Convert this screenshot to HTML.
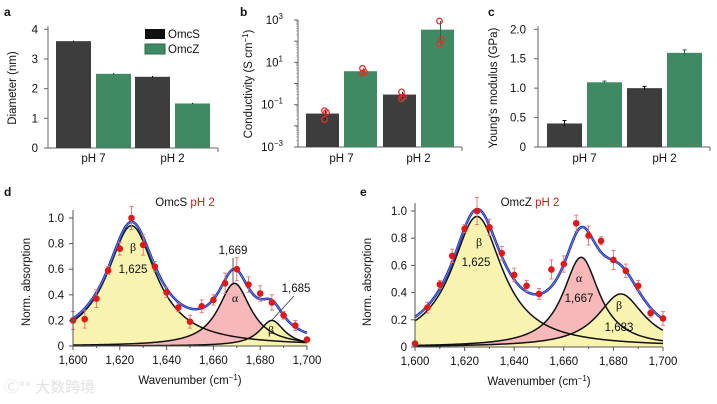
<!DOCTYPE html>
<html><head><meta charset="utf-8"><style>
body{margin:0;background:#fff}
svg{display:block;font-family:"Liberation Sans",Arial,sans-serif}
</style></head><body>
<svg id="fig" width="717" height="404" viewBox="0 0 717 404"></svg>
<script>
// ---------- data ----------
const barGroups = ["pH 7","pH 2"];
const diamOmcS = [3.6, 2.4];
const diamOmcZ = [2.5, 1.5];
const diamErrS = [0.02, 0.03];
const diamErrZ = [0.02, 0.02];
const condOmcS = [0.038, 0.3];
const condOmcZ = [3.8, 350];
const condPtsS = [[0.052,0.043,0.02],[0.4,0.23,0.19]];
const condPtsZ = [[5.2,3.4,3.1],[890,118,76]];
const ymOmcS = [0.4, 1.0];
const ymOmcZ = [1.1, 1.6];
const ymErrS = [0.05, 0.03];
const ymErrZ = [0.02, 0.05];
const waveX = [1600,1605,1610,1615,1620,1625,1630,1635,1640,1645,1650,1655,1660,1665,1670,1675,1680,1685,1690,1695,1700];
const absS = [0.20,0.21,0.37,0.59,0.76,1.00,0.79,0.62,0.42,0.30,0.19,0.31,0.36,0.49,0.60,0.48,0.41,0.34,0.24,0.16,0.05];
const errS = [0.07,0.07,0.07,0.03,0.05,0.09,0.08,0.04,0.04,0.03,0.05,0.05,0.04,0.08,0.09,0.06,0.06,0.06,0.03,0.04,0.01];
const absZ = [0.025,0.29,0.46,0.67,0.87,1.00,0.88,0.69,0.53,0.45,0.39,0.57,0.61,0.91,0.82,0.78,0.64,0.56,0.45,0.25,0.21];
const errZ = [0.01,0.04,0.03,0.05,0.03,0.10,0.06,0.05,0.05,0.04,0.04,0.07,0.06,0.06,0.07,0.03,0.07,0.05,0.04,0.03,0.05];
const peakCenS = [1625,1669,1685], peakAmpS = [0.94,0.49,0.20], peakWidS = [12.8,8.5,6.5];
const peakCenZ = [1625,1667,1683], peakAmpZ = [0.96,0.66,0.39], peakWidZ = [12.5,9,11.5];
const yTicksA=[0,1,2,3,4], yTicksB=[-3,-1,1,3], yTicksC=[0,0.5,1.0,1.5,2.0], yTicksD=[0,0.2,0.4,0.6,0.8,1.0], xTicksD=[1600,1620,1640,1660,1680,1700];

const NS="http://www.w3.org/2000/svg", svg=document.getElementById('fig');
function el(tag,attrs,parent){const e=document.createElementNS(NS,tag);for(const k in attrs)e.setAttribute(k,attrs[k]);(parent||svg).appendChild(e);return e;}
function txt(s,x,y,attrs,parent){const t=el('text',Object.assign({x:x,y:y,'font-size':11,fill:'#111'},attrs||{}),parent);t.textContent=s;return t;}
const DARK="#3d3d3d", GREEN="#3f8a62";

// ---------- panel a ----------
{
const g=el('g',{});
const X0=48,X1=218,Y0=148,Y1=29.3;const y=v=>Y0-(Y0-Y1)*v/4;
txt('a',4,16,{'font-weight':'bold','font-size':12},g);
el('line',{x1:X0,y1:Y1-3,x2:X0,y2:Y0,stroke:'#666'},g);el('line',{x1:X0,y1:Y0,x2:X1,y2:Y0,stroke:'#666'},g);el('line',{x1:X1,y1:Y0,x2:X1,y2:Y0+4,stroke:'#666'},g);
yTicksA.forEach(v=>{el('line',{x1:X0-4,y1:y(v),x2:X0,y2:y(v),stroke:'#666'},g);txt(String(v),38,y(v)+4,{'text-anchor':'end','font-size':11.5},g);});
const starts=[[56,96],[135,175]];
barGroups.forEach((lab,i)=>{
 [[diamOmcS,diamErrS,DARK],[diamOmcZ,diamErrZ,GREEN]].forEach((s,j)=>{
  const bx=starts[i][j],w=35;
  const r=el('rect',{x:bx,y:y(s[0][i]),width:w,height:Y0-y(s[0][i]),fill:s[2]},g);
  
  el('line',{x1:bx+w/2,y1:y(s[0][i]+s[1][i]),x2:bx+w/2,y2:y(s[0][i]-s[1][i]),stroke:'#111'},g);
 });
 txt(lab,(starts[i][0]+starts[i][1]+35)/2,162,{'text-anchor':'middle','font-size':11.5},g);
});
const t=txt('Diameter (nm)',16,88,{'text-anchor':'middle','font-size':11.5,transform:'rotate(-90 16 88)'},g);
const lg=el('g',{},g);
el('rect',{x:145,y:29,width:20,height:10,fill:'#111'},lg);txt('OmcS',168,38,{'font-size':11.5},lg);
el('rect',{x:145,y:44,width:20,height:10,fill:GREEN,stroke:'#2b6b48'},lg);txt('OmcZ',168,53,{'font-size':11.5},lg);
}
// ---------- panel b ----------
{
const g=el('g',{});
const X0=298,X1=462,Y0=147,Y1=20;const y=v=>Y0-(Y0-Y1)*(Math.log10(v)+3)/6;
txt('b',240,16,{'font-weight':'bold','font-size':12},g);
el('line',{x1:X0,y1:Y1,x2:X0,y2:Y0,stroke:'#666'},g);el('line',{x1:X0,y1:Y0,x2:X1,y2:Y0,stroke:'#666'},g);el('line',{x1:X1,y1:Y0,x2:X1,y2:Y0+4,stroke:'#666'},g);
for(let d=-3;d<3;d++){for(let m=2;m<10;m++){const yy=y(m*Math.pow(10,d));el('line',{x1:X0-2,y1:yy,x2:X0,y2:yy,stroke:'#999','stroke-width':0.6},g);}}
for(let d=-3;d<=3;d++){el('line',{x1:X0-4,y1:y(Math.pow(10,d)),x2:X0,y2:y(Math.pow(10,d)),stroke:'#666'},g);}
yTicksB.forEach(p=>{const t=txt('10',283,y(Math.pow(10,p))+4,{'text-anchor':'end','font-size':11.5},g);const s=el('tspan',{dy:-5,'font-size':8},t);s.textContent=p<0?'\u2212'+(-p):String(p);});
const starts=[[306,344],[383,421]];
barGroups.forEach((lab,i)=>{
 [[condOmcS,condPtsS,DARK],[condOmcZ,condPtsZ,GREEN]].forEach((s,j)=>{
  const bx=starts[i][j],w=33;
  const r=el('rect',{x:bx,y:y(s[0][i]),width:w,height:Y0-y(s[0][i]),fill:s[2]},g);
  
  const pts=s[1][i];el('line',{x1:bx+w/2+3,y1:y(Math.max(...pts)),x2:bx+w/2+3,y2:y(Math.min(...pts)),stroke:j?'#1f6b45':'#111'},g);
  pts.forEach((p,k)=>{const c=el('circle',{cx:bx+w/2+(k==1?4:2),cy:y(p),r:2.8,fill:'none',stroke:'#e03030','stroke-width':1.3},g);});
 });
 txt(lab,(starts[i][0]+starts[i][1]+33)/2,162,{'text-anchor':'middle','font-size':11.5},g);
});
const t=txt('Conductivity (S cm',252,84,{'text-anchor':'middle','font-size':11.5,transform:'rotate(-90 252 84)'},g);
const s1=el('tspan',{dy:-4,'font-size':8},t);s1.textContent='\u22121';const s2=el('tspan',{dy:4},t);s2.textContent=')';
}
// ---------- panel c ----------
{
const g=el('g',{});
const X0=538,X1=710,Y0=147,Y1=29.3;const y=v=>Y0-(Y0-Y1)*v/2;
txt('c',488,16,{'font-weight':'bold','font-size':12},g);
el('line',{x1:X0,y1:Y1-3,x2:X0,y2:Y0,stroke:'#666'},g);el('line',{x1:X0,y1:Y0,x2:X1,y2:Y0,stroke:'#666'},g);el('line',{x1:X1,y1:Y0,x2:X1,y2:Y0+4,stroke:'#666'},g);
yTicksC.forEach(v=>{el('line',{x1:X0-4,y1:y(v),x2:X0,y2:y(v),stroke:'#666'},g);txt(v===0?'0':v.toFixed(1),526,y(v)+4,{'text-anchor':'end','font-size':11.5},g);});
const starts=[[547,587],[627,667]];
barGroups.forEach((lab,i)=>{
 [[ymOmcS,ymErrS,DARK],[ymOmcZ,ymErrZ,GREEN]].forEach((s,j)=>{
  const bx=starts[i][j],w=35;
  const r=el('rect',{x:bx,y:y(s[0][i]),width:w,height:Y0-y(s[0][i]),fill:s[2]},g);
  
  const cx=bx+w/2,c=j?'#1f6b45':'#111';
  el('line',{x1:cx,y1:y(s[0][i]+s[1][i]),x2:cx,y2:y(s[0][i]-s[1][i]),stroke:c},g);
  el('line',{x1:cx-2,y1:y(s[0][i]+s[1][i]),x2:cx+2,y2:y(s[0][i]+s[1][i]),stroke:c},g);
 });
 txt(lab,(starts[i][0]+starts[i][1]+35)/2,162,{'text-anchor':'middle','font-size':11.5},g);
});
txt("Young's modulus (GPa)",497,88,{'text-anchor':'middle','font-size':11.5,transform:'rotate(-90 497 88)'},g);
}
// ---------- spectra ----------
function spectrum(name,letter,lx,X0,X1,Y0,Y1,absV,errV,cen,amp,wid,title,labels,yLabX,ticksLabX){
 const g=el('g',{});
 const x=v=>X0+(X1-X0)*(v-1600)/100, y=v=>Y0-(Y0-Y1)*v;
 txt(letter,lx,196,{'font-weight':'bold','font-size':12},g);
 const comp=(k,w)=>amp[k]/(1+Math.pow((w-cen[k])/wid[k],2));
 const fills=['#f8f4b0','#f6b8b8','#f8f4b0'];
 const order=[0,1,2];
 order.forEach(k=>{
  let d='M'+x(1600)+','+y(0);for(let w=1600;w<=1700;w+=0.5)d+=' L'+x(w).toFixed(2)+','+y(comp(k,w)).toFixed(2);d+=' L'+x(1700)+','+y(0)+'Z';
  const p=el('path',{d:d,fill:fills[k],stroke:'none'},g);
 });
 [0,1,2].forEach(k=>{let d='';for(let w=1600;w<=1700;w+=0.5)d+=(d?' L':'M')+x(w).toFixed(2)+','+y(comp(k,w)).toFixed(2);
  const p=el('path',{d:d,fill:'none',stroke:'#111','stroke-width':1.5},g);});
 let d='';for(let w=1600;w<=1700;w+=0.5){let s=0;for(let k=0;k<3;k++)s+=comp(k,w);d+=(d?' L':'M')+x(w).toFixed(2)+','+y(s+0.01).toFixed(2);}
 el('path',{d:d,fill:'none',stroke:'#2233aa','stroke-width':2.6},g);
 const fl=el('path',{d:d,fill:'none',stroke:'#6f86e8','stroke-width':0.8},g);
 waveX.forEach((w,i)=>{
  const cx=x(w),lo=y(absV[i]-errV[i]),hi=y(absV[i]+errV[i]);
  el('line',{x1:cx,y1:hi,x2:cx,y2:lo,stroke:'#e07070','stroke-width':0.9},g);
  el('line',{x1:cx-2,y1:hi,x2:cx+2,y2:hi,stroke:'#e07070','stroke-width':0.9},g);
  el('line',{x1:cx-2,y1:lo,x2:cx+2,y2:lo,stroke:'#e07070','stroke-width':0.9},g);
  const c=el('circle',{cx:cx,cy:y(absV[i]),r:3.3,fill:'#e01818'},g);
 });
 el('line',{x1:X0,y1:Y1-8,x2:X0,y2:Y0,stroke:'#555'},g);el('line',{x1:X0,y1:Y0,x2:X1,y2:Y0,stroke:'#555'},g);
 yTicksD.forEach(v=>{el('line',{x1:X0-4,y1:y(v),x2:X0,y2:y(v),stroke:'#555'},g);txt(v===0?'0':v.toFixed(1),ticksLabX,y(v)+4,{'text-anchor':'end','font-size':11.5},g);});
 xTicksD.forEach(v=>{el('line',{x1:x(v),y1:Y0,x2:x(v),y2:Y0+4,stroke:'#555'},g);txt(v.toLocaleString('en-US'),x(v),Y0+18,{'text-anchor':'middle','font-size':11.5},g);});
 for(let v=1610;v<1700;v+=20)el('line',{x1:x(v),y1:Y0,x2:x(v),y2:Y0+2,stroke:'#555'},g);
 const xt=txt('Wavenumber (cm',(X0+X1)/2,Y0+38,{'text-anchor':'middle','font-size':11.5},g);
 const s1=el('tspan',{dy:-4,'font-size':8},xt);s1.textContent='\u22121';const s2=el('tspan',{dy:4},xt);s2.textContent=')';
 txt('Norm. absorption',yLabX,282,{'text-anchor':'middle','font-size':11.5,transform:'rotate(-90 '+yLabX+' 282)'},g);
 const tt=txt(title[0]+' ',title[2],title[3],{'text-anchor':'middle','font-size':11.5},g);const rs=el('tspan',{fill:'#d01818'},tt);rs.textContent=title[1];
 labels.forEach(l=>txt(l[0],l[1],l[2],{'text-anchor':'middle','font-size':l[0].length==1?12:11.5,'font-family':l[0].length==1?'"Liberation Serif",serif':''},g));
 return g;
}
const gd=spectrum('panel-d-omcs-spectrum','d',4,73,307,346,218,absS,errS,peakCenS,peakAmpS,peakWidS,['OmcS','pH 2',185,206],
 [['β',133,251],['1,625',133,273],['1,669',233,254],['α',235,302],['1,685',296,292],['β',271,334]],30,64);
el('line',{x1:233,y1:285,x2:233,y2:258,stroke:'#333','stroke-width':0.8},gd);
el('line',{x1:272,y1:320,x2:294,y2:296,stroke:'#333','stroke-width':0.8},gd);
spectrum('panel-e-omcz-spectrum','e',360,415,663,347,211,absZ,errZ,peakCenZ,peakAmpZ,peakWidZ,['OmcZ','pH 2',530,206],
 [['β',479,246],['1,625',476,266],['α',579,282],['1,667',579,302],['β',619,309],['1,683',619,331]],371,407);
// watermark
const wm=txt('\u24b8\u00b0\u00b0 大数跨境',4,392,{'font-size':15,fill:'#e2e2e2','font-family':'"Liberation Sans","Noto Sans CJK SC",sans-serif'});


</script>
</body></html>
